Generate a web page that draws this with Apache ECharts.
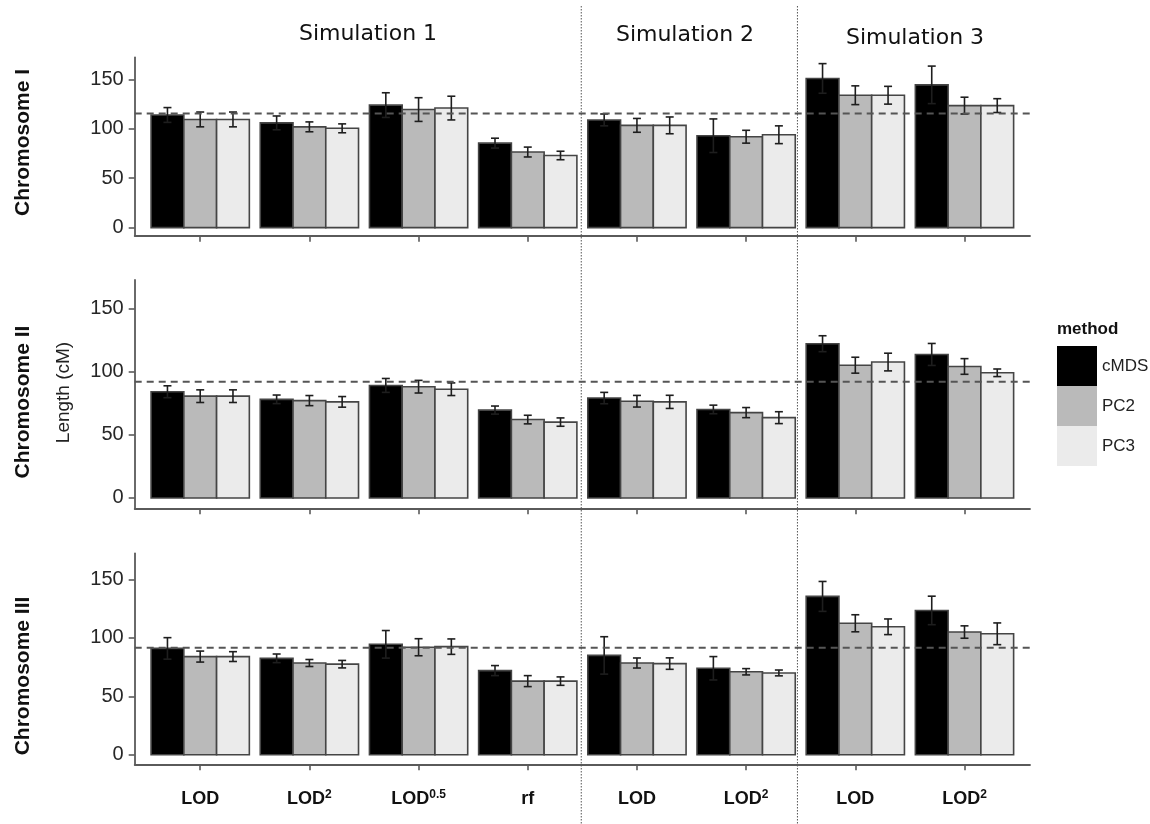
<!DOCTYPE html>
<html><head><meta charset="utf-8">
<script src="https://cdn.jsdelivr.net/npm/echarts@6/dist/echarts.min.js"></script>
<style>html,body{margin:0;padding:0;background:#fff}#c{width:1150px;height:824px}</style>
</head><body><div id="c"></div>
<script>
// ---------------- DATA ----------------
const categories = ['LOD', 'LOD2', 'LOD0.5', 'rf', 'LOD', 'LOD2', 'LOD', 'LOD2'];
const simulations = ['Simulation 1', 'Simulation 2', 'Simulation 3'];
const chromosomes = ['Chromosome I', 'Chromosome II', 'Chromosome III'];
const methods = ['cMDS', 'PC2', 'PC3'];
const yTicks = [0, 50, 100, 150];
const refLines = [115.5, 92, 91.5];

// Chromosome I
const chrI_cMDS = [114, 106, 124, 85.5, 109, 93, 151, 144.5];
const chrI_cMDS_se = [7.5, 7, 12.5, 5, 6, 17, 15, 19];
const chrI_PC2 = [109.5, 102, 119.5, 76.5, 103.5, 92, 134, 123.5];
const chrI_PC2_se = [7.5, 5, 12, 5, 7, 6.5, 9.5, 8.5];
const chrI_PC3 = [109.5, 100.5, 121, 73, 103.5, 94, 134, 123.5];
const chrI_PC3_se = [7.5, 4.5, 12, 4.3, 8.5, 9, 9, 7];
// Chromosome II
const chrII_cMDS = [84, 78, 89, 69.5, 79, 70, 122, 113.5];
const chrII_cMDS_se = [4.7, 3.4, 5.5, 3.2, 4.5, 3.4, 6.3, 8.7];
const chrII_PC2 = [80.5, 77, 88, 62, 76.5, 67.5, 105, 104];
const chrII_PC2_se = [5, 4, 5, 3.4, 4.6, 4, 6.3, 6.2];
const chrII_PC3 = [80.5, 76, 86, 60, 76, 63.5, 107.5, 99];
const chrII_PC3_se = [5, 4.2, 5, 3.3, 5.2, 4.7, 7, 3];
// Chromosome III
const chrIII_cMDS = [91, 82.5, 94.5, 72, 85, 74, 135.5, 123.5];
const chrIII_cMDS_se = [9.2, 3.7, 11.8, 4.3, 16, 10, 12.8, 12.2];
const chrIII_PC2 = [84, 78.5, 92, 63, 78.5, 71, 112.5, 105];
const chrIII_PC2_se = [4.7, 3, 7.3, 4.7, 4.3, 2.7, 7.3, 5.3];
const chrIII_PC3 = [84, 77.5, 92.5, 63, 78, 70, 109.5, 103.5];
const chrIII_PC3_se = [4.2, 3.2, 6.6, 3.6, 4.9, 2.5, 6.7, 9.3];

// ---------------- LAYOUT / STYLE ----------------
const rowValues = [[chrI_cMDS, chrI_PC2, chrI_PC3], [chrII_cMDS, chrII_PC2, chrII_PC3], [chrIII_cMDS, chrIII_PC2, chrIII_PC3]];
const rowErrors = [[chrI_cMDS_se, chrI_PC2_se, chrI_PC3_se], [chrII_cMDS_se, chrII_PC2_se, chrII_PC3_se], [chrIII_cMDS_se, chrIII_PC2_se, chrIII_PC3_se]];
const methodColors = ['#000000', '#bababa', '#ebebeb'];
const GRID_LEFT = 134.7, GRID_RIGHT = 120;
const GRIDS = [{top: 57.3, height: 178.4}, {top: 280, height: 228.3}, {top: 553.3, height: 211}];
const X_MIN = 0.4, X_MAX = 8.6;     // discrete axis expanded by 0.6 on each side
const Y_MIN = -8.2, Y_MAX = 172.4;  // 5% expansion
const BAR_W = 0.3;                  // dodge width 0.9 / 3
const SEPARATORS = [4.49, 6.47];
const SANS = "'Liberation Sans', Arial, sans-serif";
const AXIS_COLOR = '#5a5a5a';

const catIdx = categories.map((c, i) => i + 1);
function catLabel(name) {
  const m = name.match(/^LOD(\d.*)$/);
  return m ? '{b|LOD}{sup|' + m[1] + '}' : '{b|' + name + '}';
}

const chart = echarts.init(document.getElementById('c'));

const grid = [], xAxis = [], yAxis = [], series = [];
GRIDS.forEach((g, r) => {
  grid.push({left: GRID_LEFT, right: GRID_RIGHT, top: g.top, height: g.height});
  xAxis.push({
    type: 'value', gridIndex: r, min: X_MIN, max: X_MAX,
    axisLine: {show: true, onZero: false, lineStyle: {color: AXIS_COLOR, width: 1.8}},
    axisTick: {show: true, customValues: catIdx, length: 6, lineStyle: {color: AXIS_COLOR, width: 1.6}},
    axisLabel: {
      show: r === 2, customValues: catIdx, margin: 24,
      formatter: v => catLabel(categories[Math.round(v) - 1]),
      rich: {
        b: {fontFamily: SANS, fontSize: 18, fontWeight: 'bold', color: '#111', lineHeight: 22},
        sup: {fontFamily: SANS, fontSize: 12, fontWeight: 'bold', color: '#111', verticalAlign: 'top', lineHeight: 22, padding: [0, 0, 8, 0]}
      }
    },
    splitLine: {show: false}
  });
  yAxis.push({
    type: 'value', gridIndex: r, min: Y_MIN, max: Y_MAX,
    axisLine: {show: true, lineStyle: {color: AXIS_COLOR, width: 1.8}},
    axisTick: {show: true, customValues: yTicks, length: 6, lineStyle: {color: AXIS_COLOR, width: 1.6}},
    axisLabel: {customValues: yTicks, margin: 11, fontFamily: SANS, fontSize: 20, color: '#262626'},
    splitLine: {show: false}
  });
  methods.forEach((name, m) => {
    series.push({
      type: 'custom', name: name, xAxisIndex: r, yAxisIndex: r, z: 2,
      itemStyle: {color: methodColors[m]},
      encode: {x: 0, y: 1},
      data: rowValues[r][m].map((v, i) => [i + 1, v]),
      renderItem: (params, api) => {
        const x = api.value(0) + (m - 1) * BAR_W;
        const p0 = api.coord([x - BAR_W / 2, api.value(1)]);
        const p1 = api.coord([x + BAR_W / 2, 0]);
        return {type: 'rect', shape: {x: p0[0], y: p0[1], width: p1[0] - p0[0], height: p1[1] - p0[1]},
          style: {fill: methodColors[m], stroke: '#454545', lineWidth: 1.6}};
      }
    });
  });
  const errData = [];
  methods.forEach((name, m) => rowValues[r][m].forEach((v, i) => errData.push([i + 1, v, rowErrors[r][m][i], m])));
  series.push({
    type: 'custom', name: 'err', xAxisIndex: r, yAxisIndex: r, z: 3, silent: true,
    encode: {x: 0, y: 1}, data: errData,
    renderItem: (params, api) => {
      const cx = api.value(0) + (api.value(3) - 1) * BAR_W;
      const y = api.value(1), e = api.value(2);
      const t = api.coord([cx, y + e]), b = api.coord([cx, y - e]);
      const st = {stroke: '#1e1e1e', lineWidth: 1.6, fill: null};
      const cap = 4;
      return {type: 'group', children: [
        {type: 'line', shape: {x1: t[0], y1: t[1], x2: b[0], y2: b[1]}, style: st},
        {type: 'line', shape: {x1: t[0] - cap, y1: t[1], x2: t[0] + cap, y2: t[1]}, style: st},
        {type: 'line', shape: {x1: b[0] - cap, y1: b[1], x2: b[0] + cap, y2: b[1]}, style: st}
      ]};
    }
  });
  series.push({
    type: 'line', name: 'ref', xAxisIndex: r, yAxisIndex: r, z: 4, silent: true,
    showSymbol: false, symbol: 'none',
    data: [[X_MIN, refLines[r]], [X_MAX, refLines[r]]],
    lineStyle: {color: '#555', width: 2, type: [7, 5]}
  });
});

const titles = [
  {text: simulations[0], left: 368, top: 23},
  {text: simulations[1], left: 685, top: 24.5},
  {text: simulations[2], left: 915, top: 27.5}
].map(t => ({text: t.text, left: t.left, top: t.top, textAlign: 'center', padding: 0,
  textStyle: {fontFamily: "'DejaVu Sans', Verdana, sans-serif", fontSize: 22, fontWeight: 'normal', color: '#111'}}));
titles.push({text: 'method', left: 1057, top: 321, padding: 0,
  textStyle: {fontFamily: SANS, fontSize: 17, fontWeight: 'bold', color: '#111'}});

const rowLabelY = [142.5, 402, 676];
const graphic = chromosomes.map((c, r) => ({
  type: 'text', x: 23, y: rowLabelY[r], rotation: Math.PI / 2,
  style: {text: c, align: 'center', verticalAlign: 'middle', font: "bold 21px 'Liberation Sans', Arial, sans-serif", fill: '#111'}
}));
graphic.push({
  type: 'text', x: 64, y: 392.5, rotation: Math.PI / 2,
  style: {text: 'Length (cM)', align: 'center', verticalAlign: 'middle', font: "19px 'Liberation Sans', Arial, sans-serif", fill: '#222'}
});

chart.setOption({
  animation: false,
  backgroundColor: '#ffffff',
  title: titles,
  legend: {
    data: methods, orient: 'vertical', left: 1057, top: 346, padding: 0,
    itemWidth: 40, itemHeight: 40, itemGap: 0, icon: 'rect',
    itemStyle: {borderWidth: 0},
    textStyle: {fontFamily: SANS, fontSize: 17, color: '#222'}
  },
  grid, xAxis, yAxis, series, graphic
});

// vertical dotted separators between simulations
const sepGraphics = SEPARATORS.map(v => {
  const px = chart.convertToPixel({xAxisIndex: 0}, v);
  return {type: 'line', shape: {x1: px, y1: 6, x2: px, y2: 824}, z: 10,
    style: {stroke: '#555', lineWidth: 1, lineDash: [1.5, 1.5]}};
});
chart.setOption({graphic: graphic.concat(sepGraphics)});
</script></body></html>
